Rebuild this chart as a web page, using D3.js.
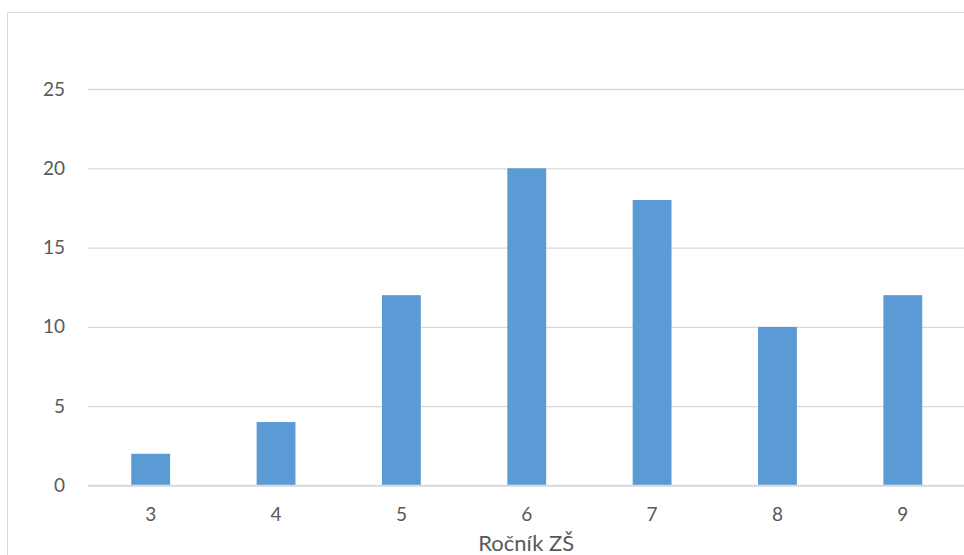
<!DOCTYPE html>
<html>
<head>
<meta charset="utf-8">
<script src="https://cdn.jsdelivr.net/npm/d3@7"></script>
<style>
  html, body { margin: 0; padding: 0; background: #fff; }
  svg { display: block; }
  text { font-family: Lato, "Open Sans", sans-serif; fill: #595959; }
</style>
</head>
<body>
<svg id="chart" width="964" height="555"></svg>
<script>
// Počet žáků podle ročníku ZŠ
const grades = ["3", "4", "5", "6", "7", "8", "9"];
const counts = [2, 4, 12, 20, 18, 10, 12];
const yTicks = [0, 5, 10, 15, 20, 25];
const xTitle = "Ročník ZŠ";

const W = 964, H = 555;
const plot = { left: 88, right: 965.5, top: 89, bottom: 485.5 };

const svg = d3.select("#chart");

// chart frame (only left and top edges fall inside the view)
svg.append("rect")
  .attr("x", 7.5).attr("y", 12.5)
  .attr("width", 1000).attr("height", 600)
  .attr("fill", "#fff")
  .attr("stroke", "#d9d9d9").attr("stroke-width", 1);

const x = d3.scaleBand()
  .domain(grades)
  .range([plot.left, plot.right])
  .paddingInner(0.69)
  .paddingOuter(0.345);

const y = d3.scaleLinear()
  .domain([0, 25])
  .range([plot.bottom, plot.top]);

// horizontal gridlines + y labels
const yAxis = d3.axisLeft(y)
  .tickValues(yTicks)
  .tickSize(-(plot.right - plot.left))
  .tickPadding(23)
  .tickFormat(d3.format("d"));

const gy = svg.append("g")
  .attr("transform", `translate(${plot.left},0)`)
  .call(yAxis);
gy.select(".domain").remove();
gy.selectAll(".tick line").attr("stroke", "#d9d9d9").attr("stroke-width", 1.3);
gy.selectAll(".tick text").attr("font-size", 19).style("fill", "#595959");

// bars
svg.append("g").selectAll("rect")
  .data(grades.map((g, i) => ({ g, v: counts[i] })))
  .join("rect")
  .attr("x", d => x(d.g))
  .attr("width", x.bandwidth())
  .attr("y", d => y(d.v))
  .attr("height", d => y(0) - y(d.v))
  .attr("fill", "#5b9bd5");

// x axis labels
const xAxis = d3.axisBottom(x).tickSize(0).tickPadding(22);
const gx = svg.append("g")
  .attr("transform", `translate(0,${plot.bottom})`)
  .call(xAxis);
gx.select(".domain").remove();
gx.selectAll(".tick text").attr("font-size", 19).style("fill", "#595959");

// baseline
svg.append("line")
  .attr("x1", plot.left).attr("x2", plot.right)
  .attr("y1", y(0)).attr("y2", y(0))
  .attr("stroke", "#d9d9d9").attr("stroke-width", 1.3);

// axis title
svg.append("text")
  .attr("x", (plot.left + plot.right) / 2 - 0.5)
  .attr("y", 551)
  .attr("text-anchor", "middle")
  .attr("font-size", 22)
  .text(xTitle);
</script>
</body>
</html>
